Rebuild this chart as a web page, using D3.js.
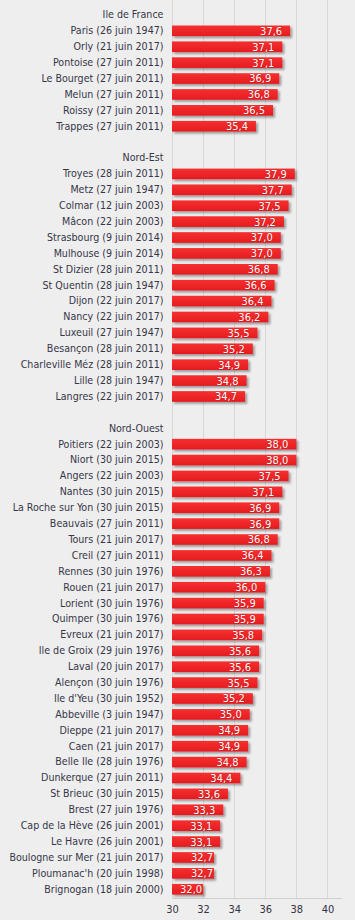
<!DOCTYPE html>
<html>
<head>
<meta charset="utf-8">
<script src="https://cdn.jsdelivr.net/npm/d3@7"></script>
<style>
  html, body { margin: 0; padding: 0; background: #eeeeee; }
  svg { display: block; }
  text { font-family: "DejaVu Sans Condensed", "Liberation Sans", sans-serif; }
</style>
</head>
<body>
<div id="chart"></div>
<script>
const regions = ["Ile de France", "Nord-Est", "Nord-Ouest"];

const idfStations = ["Paris (26 juin 1947)", "Orly (21 juin 2017)", "Pontoise (27 juin 2011)", "Le Bourget (27 juin 2011)", "Melun (27 juin 2011)", "Roissy (27 juin 2011)", "Trappes (27 juin 2011)"];
const idfValues = [37.6, 37.1, 37.1, 36.9, 36.8, 36.5, 35.4];

const neStations = ["Troyes (28 juin 2011)", "Metz (27 juin 1947)", "Colmar (12 juin 2003)", "Mâcon (22 juin 2003)", "Strasbourg (9 juin 2014)", "Mulhouse (9 juin 2014)", "St Dizier (28 juin 2011)", "St Quentin (28 juin 1947)", "Dijon (22 juin 2017)", "Nancy (22 juin 2017)", "Luxeuil (27 juin 1947)", "Besançon (28 juin 2011)", "Charleville Méz (28 juin 2011)", "Lille (28 juin 1947)", "Langres (22 juin 2017)"];
const neValues = [37.9, 37.7, 37.5, 37.2, 37.0, 37.0, 36.8, 36.6, 36.4, 36.2, 35.5, 35.2, 34.9, 34.8, 34.7];

const noStations = ["Poitiers (22 juin 2003)", "Niort (30 juin 2015)", "Angers (22 juin 2003)", "Nantes (30 juin 2015)", "La Roche sur Yon (30 juin 2015)", "Beauvais (27 juin 2011)", "Tours (21 juin 2017)", "Creil (27 juin 2011)", "Rennes (30 juin 1976)", "Rouen (21 juin 2017)", "Lorient (30 juin 1976)", "Quimper (30 juin 1976)", "Evreux (21 juin 2017)", "Ile de Groix (29 juin 1976)", "Laval (20 juin 2017)", "Alençon (30 juin 1976)", "Ile d'Yeu (30 juin 1952)", "Abbeville (3 juin 1947)", "Dieppe (21 juin 2017)", "Caen (21 juin 2017)", "Belle Ile (28 juin 1976)", "Dunkerque (27 juin 2011)", "St Brieuc (30 juin 2015)", "Brest (27 juin 1976)", "Cap de la Hève (26 juin 2001)", "Le Havre (26 juin 2001)", "Boulogne sur Mer (21 juin 2017)", "Ploumanac'h (20 juin 1998)", "Brignogan (18 juin 2000)"];
const noValues = [38.0, 38.0, 37.5, 37.1, 36.9, 36.9, 36.8, 36.4, 36.3, 36.0, 35.9, 35.9, 35.8, 35.6, 35.6, 35.5, 35.2, 35.0, 34.9, 34.9, 34.8, 34.4, 33.6, 33.3, 33.1, 33.1, 32.7, 32.7, 32.0];

const xTicks = [30, 32, 34, 36, 38, 40];

// Build rows: header, stations, blank spacer between groups
const groups = [
  { name: regions[0], stations: idfStations, values: idfValues },
  { name: regions[1], stations: neStations, values: neValues },
  { name: regions[2], stations: noStations, values: noValues }
];
const rows = [];
groups.forEach((g, gi) => {
  if (gi > 0) rows.push({ key: "blank" + gi, label: "", value: null });
  rows.push({ key: "hdr" + gi, label: g.name, value: null });
  g.stations.forEach((s, i) => rows.push({ key: s, label: s, value: g.values[i] }));
});

const W = 355, H = 920;
const svg = d3.select("#chart").append("svg").attr("width", W).attr("height", H);

const defs = svg.append("defs");
const grad = defs.append("linearGradient").attr("id", "barGrad").attr("x1", 0).attr("y1", 0).attr("x2", 0).attr("y2", 1);
grad.append("stop").attr("offset", "0%").attr("stop-color", "#f63030");
grad.append("stop").attr("offset", "100%").attr("stop-color", "#e41c20");
const f = defs.append("filter").attr("id", "shadow").attr("x", "-10%").attr("y", "-30%").attr("width", "130%").attr("height", "180%");
f.append("feDropShadow").attr("dx", 2).attr("dy", 2).attr("stdDeviation", 1.3).attr("flood-color", "#000").attr("flood-opacity", 0.35);

const x = d3.scaleLinear().domain([30, 41]).range([172, 343]);
const y = d3.scaleBand().domain(rows.map(r => r.key)).range([7, 897.2]).paddingInner(0.33).paddingOuter(0.165);

const FONT = "'DejaVu Sans Condensed', 'Liberation Sans', sans-serif";

// gridlines
svg.append("g").selectAll("line").data(xTicks).join("line")
  .attr("x1", d => Math.round(x(d)) + 0.5).attr("x2", d => Math.round(x(d)) + 0.5)
  .attr("y1", 0).attr("y2", 898)
  .attr("stroke", "#d8d8d8").attr("stroke-width", 1);

// axis line
svg.append("line").attr("x1", 172).attr("x2", 342).attr("y1", 898.5).attr("y2", 898.5)
  .attr("stroke", "#cfcfcf").attr("stroke-width", 1);

// x axis labels
const xAxis = d3.axisBottom(x).tickValues(xTicks).tickSize(0).tickPadding(0).tickFormat(d3.format("d"));
const gx = svg.append("g").attr("transform", "translate(0,905)").call(xAxis);
gx.select(".domain").remove();
gx.selectAll("text").attr("fill", "#333344").attr("font-size", "11px").attr("dy", "0.71em")
  .style("font-family", FONT);

// category labels
const yAxis = d3.axisLeft(y).tickFormat(k => rows.find(r => r.key === k).label).tickSize(0).tickPadding(0);
const gy = svg.append("g").attr("transform", "translate(163.5,0)").call(yAxis);
gy.select(".domain").remove();
gy.selectAll("text").attr("fill", "#363648").attr("font-size", "10.6px")
  .style("font-family", FONT);

// bars
const data = rows.filter(r => r.value !== null);
svg.append("g").attr("filter", "url(#shadow)").selectAll("rect").data(data).join("rect")
  .attr("x", x(30)).attr("y", d => y(d.key))
  .attr("width", d => x(d.value) - x(30)).attr("height", y.bandwidth())
  .attr("fill", "url(#barGrad)");

// value labels
const fmt = v => d3.format(".1f")(v).replace(".", ",");
svg.append("g").selectAll("text").data(data).join("text")
  .attr("x", d => (x(d.value) - x(30) < 45 ? x(d.value) - 1 : x(d.value) - 8))
  .attr("y", d => y(d.key) + y.bandwidth() / 2)
  .attr("dy", "0.36em")
  .attr("text-anchor", "end")
  .attr("fill", "#ffffff")
  .attr("font-size", "11px")
  .style("font-family", FONT)
  .style("paint-order", "stroke")
  .attr("stroke", "rgba(120,0,0,0.25)")
  .attr("stroke-width", 1)
  .text(d => fmt(d.value));
</script>
</body>
</html>
